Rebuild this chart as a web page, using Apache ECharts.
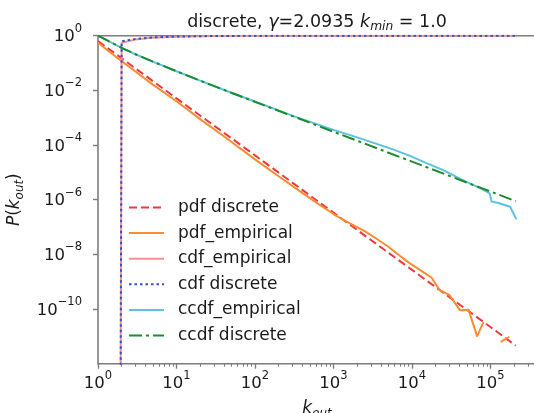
<!DOCTYPE html>
<html><head><meta charset="utf-8">
<script src="https://cdn.jsdelivr.net/npm/echarts@6.0.0/dist/echarts.min.js"></script>
<style>html,body{margin:0;padding:0;background:#fff}#c{width:534px;height:413px}</style>
</head><body><div id="c"></div>
<script>
// ---- data ----
const xMajorTicks = [1, 10, 100, 1000, 10000, 100000];
const xMinorTicks = [2,3,4,5,6,7,8,9, 20,30,40,50,60,70,80,90, 200,300,400,500,600,700,800,900,
  2000,3000,4000,5000,6000,7000,8000,9000, 20000,30000,40000,50000,60000,70000,80000,90000, 200000,300000];
const yMajorTicks = [1, 1e-2, 1e-4, 1e-6, 1e-8, 1e-10];

const kPdfDiscrete = [1, 10, 100, 1000, 10000, 100000, 210000];
const pdfDiscrete  = [0.64, 5.1e-3, 4.2e-5, 3.35e-7, 2.7e-9, 2.2e-11, 4.6e-12];

const kPdfEmpirical = [1,2,3,5,10,20,40,100,200,400,700,1100,1600,2500,3500,5000,7400,9100,11000,13500,17800,22400,30200,40700,52500,67600,81300,100000,135000,174000];
const pdfEmpirical  = [0.55,0.117,0.049,0.0162,4.0e-3,8.9e-4,2.1e-4,3.0e-5,7.2e-6,1.78e-6,5.9e-7,2.5e-7,1.4e-7,7.1e-8,3.8e-8,1.9e-8,7.9e-9,5.0e-9,3.5e-9,2.4e-9,1.4e-9,5.0e-10,3.2e-10,9.1e-11,9.5e-11,1.0e-11,3.3e-11,'-',6.3e-12,9.5e-12];

const kCdf = [1, 2, 3, 5, 10, 30, 100, 1000, 10000, 210000];
const cdfEmpirical = [1e-300, 0.55, 0.72, 0.85, 0.92, 0.97, 0.99, 0.999, 0.9999, 1];
const cdfDiscrete  = [1e-300, 0.62, 0.76, 0.87, 0.93, 0.975, 0.993, 0.9993, 0.9999, 1];

const kCcdfEmpirical = [1,2,3,5,10,20,50,100,316,1000,2000,3400,5600,9100,15800,25100,38900,56200,79400,97700,103500,126000,178000,214000];
const ccdfEmpirical  = [1,0.36,0.21,0.113,0.05,0.0227,8.2e-3,3.9e-3,1.12e-3,3.6e-4,1.9e-4,1.15e-4,7.1e-5,4.2e-5,2.1e-5,1.2e-5,6.3e-6,3.8e-6,2.4e-6,1.7e-6,8.5e-7,7.6e-7,5.5e-7,1.9e-7];

const kCcdfDiscrete = [1,2,3,5,10,20,50,100,1000,10000,100000,210000];
const ccdfDiscrete  = [1,0.36,0.21,0.113,0.05,0.0227,8.2e-3,3.8e-3,3.06e-4,2.47e-5,1.99e-6,8.8e-7];

const seriesNames = ['pdf discrete','pdf_empirical','cdf_empirical','cdf discrete','ccdf_empirical','ccdf discrete'];

// ---- chart ----
const FONT = 'DejaVu Sans';
const TXT = '#1a1a1a';
const SPINE = '#7d7d7d';
const pairs = (ks, vs) => ks.map((k, i) => [k, vs[i]]);
const supLabel = v => {
  const e = Math.round(Math.log10(v));
  return '{b|10}{s|' + String(e).replace('-', '\u2212') + '}';
};
const tickRich = {
  b: {fontSize: 16.5, fontFamily: FONT, color: TXT, lineHeight: 20, verticalAlign: 'bottom'},
  s: {fontSize: 11.5, fontFamily: FONT, color: TXT, lineHeight: 12, padding: [0,0,11,0], verticalAlign: 'bottom'}
};
const mathRich = (fs) => ({
  n: {fontSize: fs, fontFamily: FONT, fontWeight: 'normal', color: TXT, lineHeight: 20, verticalAlign: 'top'},
  i: {fontSize: fs, fontFamily: FONT, fontWeight: 'normal', fontStyle: 'italic', color: TXT, lineHeight: 20, verticalAlign: 'top'},
  sub: {fontSize: fs * 0.7, fontFamily: FONT, fontWeight: 'normal', fontStyle: 'italic', color: TXT, lineHeight: 12, padding: [9,0,0,0], verticalAlign: 'bottom'}
});
const X_MIN = 1, X_MAX = 380000, Y_MIN = 1e-12, Y_MAX = 1;

const chart = echarts.init(document.getElementById('c'), null, {renderer: 'canvas'});
chart.setOption({
  backgroundColor: '#fff',
  animation: false,
  title: {
    text: '{n|discrete, }{i|\u03b3}{n|=2.0935 }{i|k}{sub|min}{n| = 1.0}',
    left: 317, top: 13, textAlign: 'center', padding: 0,
    textStyle: {fontWeight: 'normal', rich: mathRich(17.5)}
  },
  grid: {left: 98, top: 35.7, width: 438, height: 328, show: true, borderColor: SPINE, borderWidth: 1.6,
         backgroundColor: 'transparent', outerBoundsMode: 'none', containLabel: false},
  legend: {
    orient: 'vertical', left: 128, top: 197.5, padding: 0,
    itemWidth: 35, itemHeight: 20, itemGap: 5.6,
    data: seriesNames,
    itemStyle: {opacity: 0},
    textStyle: {fontSize: 17, fontFamily: FONT, color: TXT, padding: [0,0,0,9], lineHeight: 20},
    selectedMode: false
  },
  xAxis: [{
    type: 'log', logBase: 10, min: X_MIN, max: X_MAX, position: 'bottom',
    axisLine: {show: false, onZero: false},
    splitLine: {show: false},
    axisTick: {show: true, length: 5, customValues: xMajorTicks, lineStyle: {color: SPINE, width: 1.4}},
    axisLabel: {show: true, margin: 9, customValues: xMajorTicks, formatter: supLabel, rich: tickRich},
    name: '{i|k}{sub|out}', nameLocation: 'middle', nameGap: 36,
    nameTextStyle: {rich: mathRich(17)}
  }, {
    type: 'log', logBase: 10, min: X_MIN, max: X_MAX, position: 'bottom',
    axisLine: {show: false, onZero: false},
    splitLine: {show: false},
    axisTick: {show: true, length: 3, customValues: xMinorTicks, lineStyle: {color: SPINE, width: 1.1}},
    axisLabel: {show: false}
  }],
  yAxis: {
    type: 'log', logBase: 10, min: Y_MIN, max: Y_MAX,
    axisLine: {show: false, onZero: false},
    splitLine: {show: false},
    axisTick: {show: true, length: 5, customValues: yMajorTicks, lineStyle: {color: SPINE, width: 1.4}},
    axisLabel: {show: true, margin: 16, customValues: yMajorTicks, formatter: supLabel, rich: tickRich},
    name: '{i|P}{n|(}{i|k}{sub|out}{n|)}', nameLocation: 'middle', nameGap: 52,
    nameTextStyle: {rich: mathRich(17)}
  },
  series: [
    {name: seriesNames[0], type: 'line', data: pairs(kPdfDiscrete, pdfDiscrete), symbol: 'none',
     lineStyle: {color: '#f2383c', width: 2, type: [8, 4]}, itemStyle: {color: '#f2383c'}},
    {name: seriesNames[1], type: 'line', data: pairs(kPdfEmpirical, pdfEmpirical), symbol: 'none',
     lineStyle: {color: '#fd8c30', width: 2}, itemStyle: {color: '#fd8c30'}},
    {name: seriesNames[2], type: 'line', data: pairs(kCdf, cdfEmpirical), symbol: 'none',
     lineStyle: {color: '#f5918a', width: 2}, itemStyle: {color: '#f5918a'}},
    {name: seriesNames[3], type: 'line', data: pairs(kCdf, cdfDiscrete), symbol: 'none',
     lineStyle: {color: '#2f4fd0', width: 2, type: [2.5, 3]}, itemStyle: {color: '#2f4fd0'}},
    {name: seriesNames[4], type: 'line', data: pairs(kCcdfEmpirical, ccdfEmpirical), symbol: 'none',
     lineStyle: {color: '#5cc2e0', width: 2}, itemStyle: {color: '#5cc2e0'}},
    {name: seriesNames[5], type: 'line', data: pairs(kCcdfDiscrete, ccdfDiscrete), symbol: 'none',
     lineStyle: {color: '#1b8c2e', width: 2, type: [13, 4, 3, 4]}, itemStyle: {color: '#1b8c2e'}}
  ]
});
</script>
</body></html>
